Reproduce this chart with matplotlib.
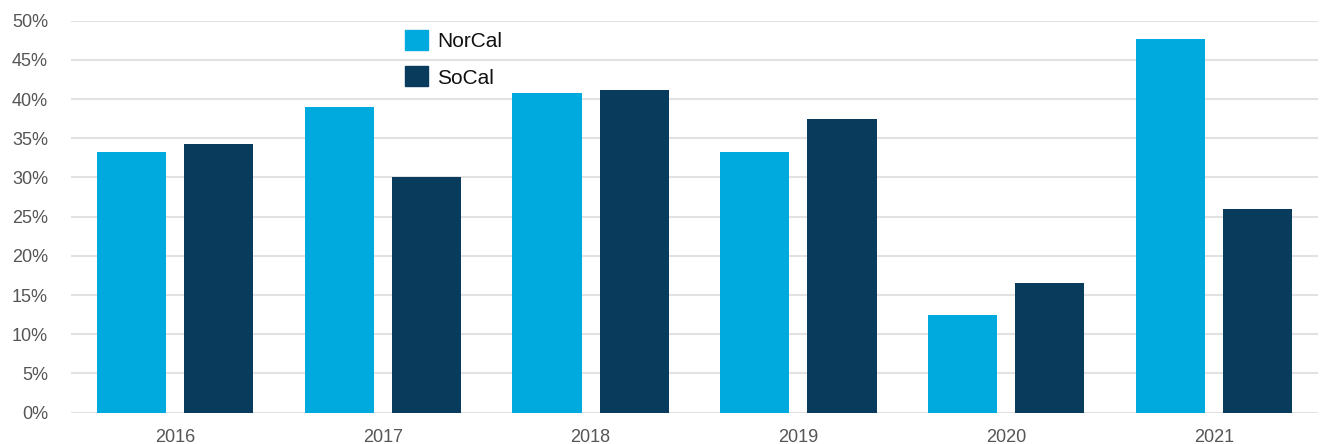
import numpy as np
import matplotlib
matplotlib.use("Agg")
import matplotlib.pyplot as plt
from matplotlib.patches import Patch

years = ["2016", "2017", "2018", "2019", "2020", "2021"]
norcal = [33.2, 39.0, 40.8, 33.2, 12.4, 47.6]
socal = [34.3, 30.1, 41.2, 37.4, 16.6, 26.0]
yticks = [0, 5, 10, 15, 20, 25, 30, 35, 40, 45, 50]

c_nor = "#00aade"
c_so = "#083b5c"

plt.rcParams['font.family'] = ['Liberation Sans', 'DejaVu Sans']

fig = plt.figure(figsize=(13.27, 4.44), dpi=100)
ax = fig.add_axes([71 / 1327, 0.0705, 1247 / 1327, 0.883])

x = np.arange(len(years))
w = 0.333
ax.bar(x - 0.21, norcal, width=w, color=c_nor, zorder=3)
ax.bar(x + 0.21, socal, width=w, color=c_so, zorder=3)

ax.set_xlim(-0.5, len(years) - 0.5)
ax.set_ylim(0, 50)
ax.set_yticks(yticks)
ax.set_yticklabels([f"{t}%" for t in yticks])
ax.set_xticks(x)
ax.set_xticklabels(years)
ax.grid(axis="y", color="#e2e2e2", linewidth=1.5, zorder=0)
for s in ax.spines.values():
    s.set_visible(False)
ax.tick_params(axis="both", length=0, labelsize=13, labelcolor="#555555")
ax.tick_params(axis="y", pad=16.5)
ax.tick_params(axis="x", pad=12)
for lab in ax.get_yticklabels():
    lab.set_horizontalalignment("right")

handles = [Patch(color=c_nor, label="NorCal"), Patch(color=c_so, label="SoCal")]
leg = ax.legend(handles=handles, loc="upper left", bbox_to_anchor=(386 / 1327, 1 - 11 / 444),
                bbox_transform=fig.transFigure, frameon=False, fontsize=15,
                handlelength=1.1, handleheight=1.1, labelspacing=0.75, handletextpad=0.45)
for t in leg.get_texts():
    t.set_color("#111111")

fig.savefig("out.png", dpi=100)
